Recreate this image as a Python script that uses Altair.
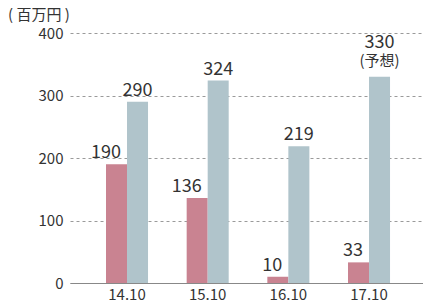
import altair as alt
import pandas as pd

categories = ["14.10", "15.10", "16.10", "17.10"]
series_a = [190, 136, 10, 33]
series_b = [290, 324, 219, 330]
notes_b = ["", "", "", "(予想)"]
y_ticks = [0, 100, 200, 300, 400]

rows = []
for c, a, b, nb in zip(categories, series_a, series_b, notes_b):
    rows.append({"cat": c, "s": "a", "v": a, "lab": str(a), "note": ""})
    rows.append({"cat": c, "s": "b", "v": b, "lab": str(b), "note": nb})
df = pd.DataFrame(rows)

FONT = "Noto Sans CJK JP"
xscale = alt.Scale(paddingInner=0.479, paddingOuter=0.4275, align=0.522)
offscale = alt.Scale(paddingInner=0, paddingOuter=0)

x = alt.X("cat:N", scale=xscale, sort=categories,
          axis=alt.Axis(title=None, labelAngle=0, ticks=False, domain=True,
                        domainColor="#888888", domainWidth=1.2,
                        labelFontSize=15, labelColor="#333333", labelFont=FONT,
                        labelPadding=4))
y = alt.Y("v:Q", scale=alt.Scale(domain=[0, 400]),
          axis=alt.Axis(title=None, values=y_ticks, ticks=False, domain=False,
                        grid=True, gridColor="#9a9a9a", gridDash=[3, 3],
                        gridWidth=1, labelFontSize=15, labelColor="#333333",
                        labelFont=FONT, labelPadding=7))

xs = alt.X("cat:N", scale=xscale, sort=categories)
xo = alt.XOffset("s:N", scale=offscale)

base = alt.Chart(df)
bars = base.mark_bar().encode(
    x=x, y=y, xOffset=xo,
    color=alt.Color("s:N", scale=alt.Scale(domain=["a", "b"], range=["#c98391", "#b0c4cb"]), legend=None),
)
text_a = base.transform_filter(alt.datum.s == "a").mark_text(
    align="right", baseline="alphabetic", dx=-6, dy=-6, fontSize=18, font=FONT, color="#333333"
).encode(x=xs, y="v:Q", text="lab:N")
text_b = base.transform_filter((alt.datum.s == "b") & (alt.datum.note == "")).mark_text(
    align="center", baseline="alphabetic", dy=-6, fontSize=18, font=FONT, color="#333333"
).encode(x=xs, xOffset=xo, y="v:Q", text="lab:N")
text_b2 = base.transform_filter((alt.datum.s == "b") & (alt.datum.note != "")).mark_text(
    align="center", baseline="alphabetic", dy=-29, fontSize=18, font=FONT, color="#333333"
).encode(x=xs, xOffset=xo, y="v:Q", text="lab:N")
note_b = base.transform_filter((alt.datum.s == "b") & (alt.datum.note != "")).mark_text(
    align="center", baseline="alphabetic", dy=-11, fontSize=15, font=FONT, color="#333333"
).encode(x=xs, xOffset=xo, y="v:Q", text="note:N")

chart = alt.layer(bars, text_a, text_b, text_b2, note_b).properties(
    width=353, height=250,
    autosize=alt.AutoSizeParams(type="none"),
    padding={"left": 62, "top": 25, "right": 0, "bottom": 25},
    title=alt.TitleParams("( 百万円 )", anchor="start", frame="group", dx=-62,
                          offset=3, fontSize=15, fontWeight="normal", font=FONT,
                          color="#333333"),
).configure_view(stroke=None)

chart.save("out.html", embed_options={"renderer": "svg", "actions": False})
